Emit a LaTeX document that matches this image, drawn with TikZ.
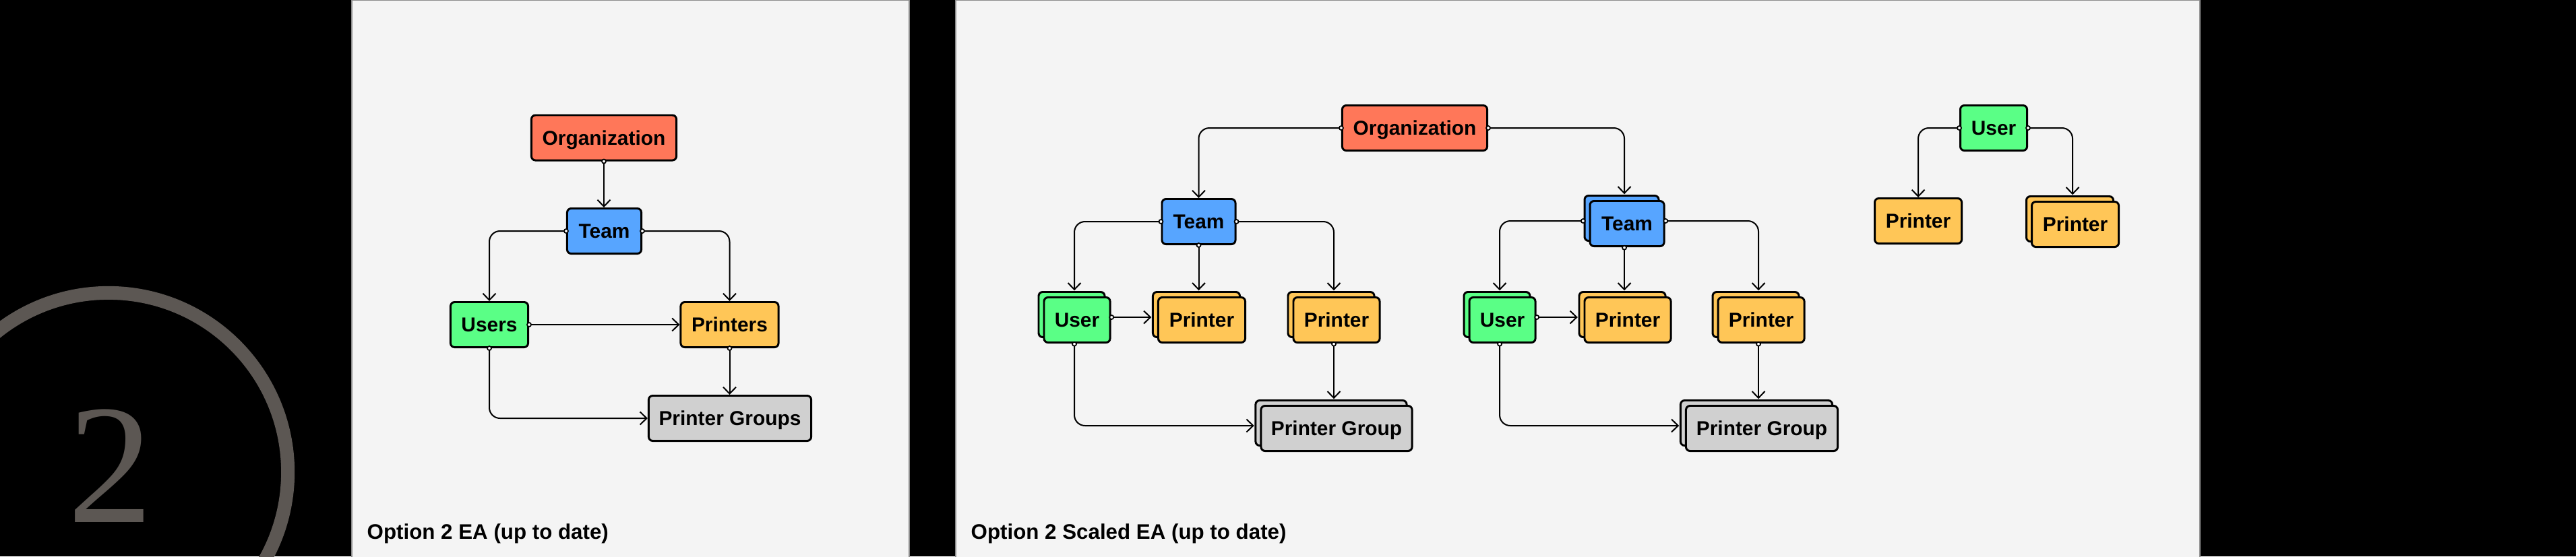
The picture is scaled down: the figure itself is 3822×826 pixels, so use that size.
\documentclass[tikz,border=0pt]{standalone}
\usepackage{fontspec}
\newfontfamily\sansb{Liberation Sans}
\newfontfamily\serifn{Liberation Serif}
\usepackage{tikz}
\usetikzlibrary{arrows.meta,fit}
\definecolor{orgc}{HTML}{FF7759}
\definecolor{teamc}{HTML}{57A5FF}
\definecolor{usrc}{HTML}{5AFF86}
\definecolor{prnc}{HTML}{FFC657}
\definecolor{grpc}{HTML}{D0D0D0}
\definecolor{panelc}{HTML}{F4F4F4}
\definecolor{circc}{HTML}{5C5753}
% stacked entity: name, x, y (back box), width, fill, label
\newcommand{\stackent}[6]{%
  \node[ent,fill=#5,minimum width=#4] (#1b) at (#2,#3) {};
  \node[ent,fill=#5,minimum width=#4] (#1f) at ([shift={(8,8)}]#1b.center) {#6};
  \node[fit=(#1b)(#1f),inner sep=0pt] (#1) {};}

\begin{document}
\begin{tikzpicture}[x=0.01cm,y=-0.01cm,
  ent/.style={draw=black,line width=0.85pt,rounded corners=1.7pt,minimum height=0.67cm,
    inner sep=0pt,text height=6pt,text depth=0pt,font=\sansb\bfseries\fontsize{8.5}{10}\selectfont},
  link/.style={draw=black,line width=0.57pt,rounded corners=4.5pt,-{Straight Barb[length=2.8pt,width=5.4pt]}},
  dot/.style={draw=black,fill=white,line width=0.5pt},
  capt/.style={anchor=base west,inner sep=0pt,font=\sansb\bfseries\fontsize{8.9}{10}\selectfont}]
\useasboundingbox (0,0) rectangle (3822,826);
\clip (0,0) rectangle (3822,826);
\fill[black] (0,0) rectangle (3822,826);
% ---- ZNAK ----
\draw[circc,line width=5.7pt] (161,701) circle (2.66cm);
\node[font=\serifn\fontsize{72}{72}\selectfont,text=circc,anchor=base,inner sep=0pt] (num) at (164,775) {2};
% ---- PANELE ----
\draw[fill=panelc,draw=black!45,line width=0.4pt] (522,0) rectangle (1349,830);
\draw[fill=panelc,draw=black!45,line width=0.4pt] (1418,0) rectangle (3264,830);
\node[capt] (cap1) at (544,800) {Option 2 EA (up to date)};
\node[capt] (cap2) at (1440,800) {Option 2 Scaled EA (up to date)};
% ---- OPTION 2 EA ----
\node[ent,fill=orgc,minimum width=2.15cm] (org1) at (896,204.5) {Organization};
\node[ent,fill=teamc,minimum width=1.10cm] (team1) at (896.5,343) {Team};
\node[ent,fill=usrc,minimum width=1.15cm] (users) at (726,482) {Users};
\node[ent,fill=prnc,minimum width=1.45cm] (printers) at (1082.5,482) {Printers};
\node[ent,fill=grpc,minimum width=2.41cm] (pgroups) at (1083,621) {Printer Groups};
\draw[link] (org1.south) -- (org1.south |- team1.north);
\draw[link] (team1.west) -| (users.north);
\draw[link] (team1.east) -| (printers.north);
\draw[link] (users.east) -- (printers.west);
\draw[link] (users.south) |- (pgroups.west);
\draw[link] (printers.south) -- (printers.south |- pgroups.north);
% ---- OPTION 2 SCALED EA ----
\node[ent,fill=orgc,minimum width=2.15cm] (org2) at (2099,190) {Organization};
\node[ent,fill=teamc,minimum width=1.09cm] (team2a) at (1778.5,329) {Team};
\stackent{team2b}{2406}{324}{1.10cm}{teamc}{Team}
\stackent{usr2a}{1590}{467}{0.98cm}{usrc}{User}
\stackent{prn2a}{1775}{467}{1.29cm}{prnc}{Printer}
\stackent{prn2b}{1975}{467}{1.28cm}{prnc}{Printer}
\stackent{pg2a}{1975}{628}{2.24cm}{grpc}{Printer Group}
\stackent{usr2b}{2221}{467}{0.98cm}{usrc}{User}
\stackent{prn2c}{2407}{467}{1.28cm}{prnc}{Printer}
\stackent{prn2d}{2605}{467}{1.28cm}{prnc}{Printer}
\stackent{pg2b}{2606}{628}{2.25cm}{grpc}{Printer Group}
\draw[link] (org2.west) -| (team2a.north);
\draw[link] (org2.east) -| (team2b.north);
\draw[link] (team2a.west) -| (usr2a.north);
\draw[link] (team2a.south) -- (team2a.south |- prn2a.north);
\draw[link] (team2a.east) -| (prn2b.north);
\draw[link] (usr2a.east) -- (usr2a.east -| prn2a.west);
\draw[link] (usr2a.south) |- (pg2a.west);
\draw[link] (prn2b.south) -- (prn2b.south |- pg2a.north);
\draw[link] (team2b.west) -| (usr2b.north);
\draw[link] (team2b.south) -- (team2b.south |- prn2c.north);
\draw[link] (team2b.east) -| (prn2d.north);
\draw[link] (usr2b.east) -- (usr2b.east -| prn2c.west);
\draw[link] (usr2b.south) |- (pg2b.west);
\draw[link] (prn2d.south) -- (prn2d.south |- pg2b.north);
% ---- USER -> PRINTER ----
\node[ent,fill=usrc,minimum width=0.99cm] (usr3) at (2958,190) {User};
\node[ent,fill=prnc,minimum width=1.29cm] (prn3a) at (2846,328) {Printer};
\stackent{prn3b}{3071}{325}{1.29cm}{prnc}{Printer}
\draw[link] (usr3.west) -| (prn3a.north);
\draw[link] (usr3.east) -| (prn3b.north);
% ---- KROPKI ----
\foreach \p in {org1.south,team1.west,team1.east,users.east,users.south,printers.south,
  org2.west,org2.east,team2a.west,team2a.south,team2a.east,usr2a.east,usr2a.south,prn2b.south,
  team2b.west,team2b.south,team2b.east,usr2b.east,usr2b.south,prn2d.south,usr3.west,usr3.east}
  \draw[dot] (\p) circle (0.03cm);
\end{tikzpicture}
\end{document}
